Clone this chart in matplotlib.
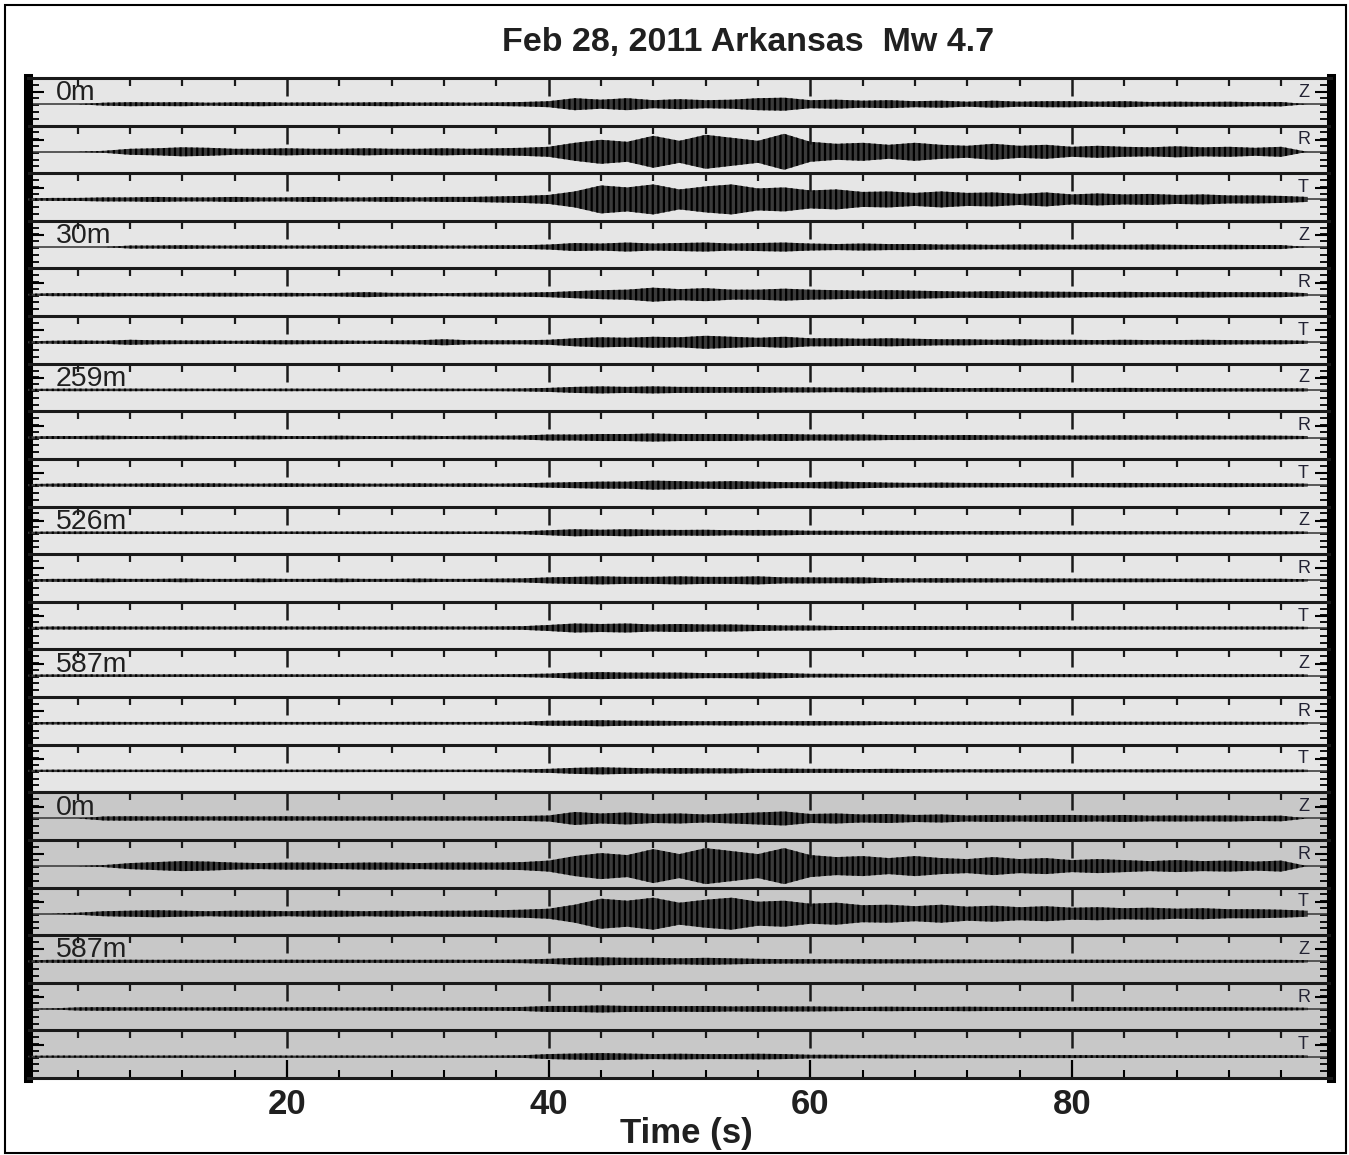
import numpy as np
import matplotlib
matplotlib.use('Agg')
import matplotlib.pyplot as plt
from matplotlib.patches import Rectangle

plt.rcParams['font.family'] = ['Liberation Sans', 'DejaVu Sans']
plt.rcParams['hatch.linewidth'] = 1.6

# sample times (s) of the envelope readings
env_t = list(range(0, 100, 2))

# station labels (one per group of three components) and components
stations = ['0m', '30m', '259m', '526m', '587m', '0m', '587m']
components = ['Z', 'R', 'T']

# envelope half-heights, in pixels (row height ~47.6 px)
amp_0m_Z = [0, 0, 0, 1.5, 2, 1.8, 2, 1.5, 1.8, 2, 1.6, 1.8, 1.5, 1.8, 2, 1.6, 1.8, 1.5, 1.8, 2.2,
            3, 6, 4.5, 6, 4, 5, 4, 4.5, 6, 6.5, 4, 4.5, 3.5, 4, 3, 3.5, 2.5, 3.5, 2.5, 3,
            3, 2.5, 3, 2.2, 2.5, 2.2, 2.5, 2, 2.2, 0]
amp_0m_R = [0, 0, 0, 1, 3, 3.5, 4.5, 4, 3, 3, 3.5, 3, 3, 3.5, 3, 3, 3.5, 3, 3.5, 4,
            5, 9, 12, 10, 16, 11, 17, 14, 11, 18, 10, 8, 9, 7, 9, 7, 6, 8, 6, 7,
            5, 6, 5, 4.5, 5.5, 4.5, 5, 4, 5, 0]
amp_0m_T = [1, 1.5, 1.5, 2, 2, 2.5, 2, 2, 2.5, 2, 2, 2.5, 2, 2, 2.5, 2, 2.5, 2.5, 3, 3.5,
            4.5, 8, 14, 12, 15, 10, 13, 15, 11, 12, 9, 10, 7.5, 8, 6.5, 8, 6.5, 7, 5.5, 7,
            5, 6, 5, 5.5, 4.5, 5, 4, 4, 3.5, 2.5]
amp_30m_Z = [0, 0, 0, 0, 1.5, 1.5, 1.8, 1.5, 1.5, 1.8, 1.5, 1.5, 1.8, 1.5, 1.5, 1.8, 1.5, 1.5, 1.8, 1.8,
             2.5, 4, 3.5, 4.5, 3.5, 4, 4.5, 3.5, 4, 4.5, 3.5, 3, 3.5, 3, 3,
             2.5, 2.5, 2.2, 2.5, 2.5, 2.2, 2.5, 2.2, 2.5, 2.2, 2, 2.2, 2, 2, 0]
amp_30m_R = [0.8, 1.5, 1.5, 1.8, 1.5, 1.8, 1.5, 1.8, 1.8, 1.5, 1.8, 1.5, 1.8, 2.5, 1.8, 1.8, 1.5, 1.8, 2, 2,
             2.5, 3.5, 4.5, 5, 7, 5.5, 6.5, 5, 5, 6, 5, 4.5, 4, 4.5, 4,
             3.5, 3, 3.5, 3, 3, 2.8, 2.5, 2.8, 2.5, 2.5, 2.8, 2.5, 2.5, 2.5, 1.5]
amp_30m_T = [1, 1.5, 1.8, 1.5, 2.5, 2, 1.8, 1.8, 1.5, 1.8, 2, 1.8, 1.8, 1.5, 1.8, 2, 3, 2, 2, 2,
             2.5, 4, 5, 4.5, 5.5, 5, 6.5, 5.5, 4.5, 5.5, 4, 4, 3.5, 4, 3.5,
             3, 3, 2.5, 3, 2.5, 2.5, 2.2, 2.5, 2.2, 2.2, 2.5, 2.2, 2, 2, 1.5]
amp_259m_Z = [1, 1.2, 1.3, 1.2, 1.3, 1.2, 1.3, 1.2, 1.3, 1.2, 1.3, 1.2, 1.3, 1.2, 1.3, 1.2, 1.3, 1.2, 1.3, 1.5,
              2, 3, 3.5, 3, 3.5, 3, 3, 2.8, 3, 2.5, 2.5, 2.2, 2.5, 2.2, 2.2,
              2, 1.8, 2, 1.8, 2, 1.8, 1.8, 2, 1.8, 1.8, 1.8, 1.6, 1.6, 1.6, 1.5]
amp_259m_R = [1, 1.5, 1.5, 1.8, 1.5, 1.5, 1.8, 1.5, 1.5, 1.8, 1.5, 1.5, 1.8, 1.5, 1.5, 1.8, 1.5, 1.8, 1.8, 2,
              3, 3, 3.5, 3.5, 4, 3.5, 3.5, 3.5, 3, 3.5, 3, 3, 3,
              2.5, 2.5, 2.2, 2.5, 2.2, 2, 2.2, 2, 2, 2.2, 2, 2, 2, 1.8, 2, 1.8, 1.5]
amp_259m_T = [1, 1.5, 1.8, 1.5, 1.5, 1.8, 1.5, 1.8, 1.5, 1.5, 1.8, 1.5, 1.8, 1.5, 1.5, 1.8, 1.5, 1.8, 1.5, 1.8,
              2.5, 3, 3.5, 3.5, 4.5, 4, 3.5, 4, 3.5, 3, 3, 3.5, 3, 2.5,
              2.2, 2.5, 2.2, 2.2, 2, 2.2, 2, 2, 2.2, 2, 2, 1.8, 2, 1.8, 1.8, 1.5]
amp_526m_Z = [1, 1.2, 1.3, 1.2, 1.3, 1.2, 1.3, 1.2, 1.2, 1.3, 1.2, 1.3, 1.2, 1.3, 1.2, 1.2, 1.3, 1.2, 1.3, 1.5,
              2.5, 3.5, 3, 3.5, 3, 2.8, 3, 2.5, 2.8, 2.5,
              2, 2, 1.8, 2, 1.8, 1.8, 1.6, 1.8, 1.6, 1.6, 1.6, 1.5, 1.6, 1.5, 1.5, 1.5, 1.5, 1.5, 1.5, 1.2]
amp_526m_R = [1, 1.5, 1.5, 1.8, 1.5, 1.5, 1.8, 1.5, 1.5, 1.8, 1.5, 1.5, 1.8, 1.5, 1.5, 1.8, 1.5, 1.5, 1.8, 2,
              3, 3.5, 4, 3.5, 3.5, 4, 3.5, 3.5, 4, 3, 3, 2.8, 3,
              2.2, 2, 2.2, 2, 2, 1.8, 2, 1.8, 1.8, 1.8, 1.8, 1.6, 1.8, 1.6, 1.6, 1.6, 1.2]
amp_526m_T = [1, 1.5, 1.5, 1.6, 1.5, 1.5, 1.6, 1.5, 1.5, 1.6, 1.5, 1.5, 1.6, 1.5, 1.5, 1.6, 1.5, 1.5, 1.6, 1.8,
              3, 4.5, 4, 4.5, 3.5, 4, 3.5, 3.5, 3, 2.5, 2.5,
              2, 2, 1.8, 2, 1.8, 1.8, 1.8, 1.6, 1.8, 1.6, 1.6, 1.6, 1.5, 1.6, 1.5, 1.5, 1.5, 1.5, 1.2]
amp_587m_Z = [1, 1.2, 1.3, 1.2, 1.3, 1.2, 1.3, 1.2, 1.3, 1.2, 1.3, 1.2, 1.3, 1.2, 1.3, 1.2, 1.3, 1.2, 1.3, 1.5,
              2, 3, 3.5, 3, 3, 3, 2.5, 2.5, 3, 2.5,
              1.8, 1.8, 1.6, 1.8, 1.6, 1.6, 1.6, 1.5, 1.6, 1.5, 1.5, 1.5, 1.5, 1.5, 1.5, 1.4, 1.5, 1.4, 1.4, 1.2]
amp_587m_R = [1, 1.3, 1.3, 1.4, 1.3, 1.3, 1.4, 1.3, 1.3, 1.4, 1.3, 1.3, 1.4, 1.3, 1.3, 1.4, 1.3, 1.3, 1.4, 1.5,
              2.5, 2.5, 3, 2.5, 2.5, 2.2, 2, 2.2, 2, 2, 2.2, 2, 2,
              1.6, 1.6, 1.5, 1.6, 1.5, 1.5, 1.5, 1.5, 1.6, 1.5, 1.5, 1.5, 1.4, 1.5, 1.4, 1.4, 1.2]
amp_587m_T = [1, 1.2, 1.2, 1.3, 1.2, 1.2, 1.3, 1.2, 1.2, 1.3, 1.2, 1.2, 1.3, 1.2, 1.2, 1.3, 1.2, 1.2, 1.3, 1.5,
              2, 3, 3.5, 3, 2.5, 2.8, 2.5, 2.5, 2, 2.2, 2, 2, 1.8, 2, 1.8,
              1.6, 1.5, 1.6, 1.5, 1.5, 1.5, 1.5, 1.4, 1.5, 1.4, 1.4, 1.4, 1.4, 1.4, 1.2]
amp_0m_Z_b = [0, 0, 0, 2, 2.2, 2, 2.2, 2, 2.2, 2, 2.2, 2, 2.2, 2, 2.2, 2, 2.2, 2, 2.2, 2.5,
              3, 6.5, 5, 6, 4.5, 5, 4, 5, 6, 7, 4.5, 5, 4, 4.5, 3.5, 4, 3, 3.5, 3, 3.5,
              3.5, 3, 3.5, 2.8, 3, 2.8, 3, 2.5, 2.8, 0]
amp_0m_R_b = [0, 0, 0, 1, 3, 4, 5, 4.5, 3.5, 3, 3.5, 3.5, 3, 3.5, 3.5, 3, 3.5, 3.5, 3.5, 4,
              5.5, 10, 13, 11, 17, 12, 18, 15, 12, 18, 11, 9, 10, 8, 10, 8, 7, 9, 7, 8,
              6, 7, 6, 5, 6, 5, 5.5, 4.5, 5.5, 0]
amp_0m_T_b = [0, 0, 1, 2.5, 3, 3.5, 3, 2.5, 3, 3, 2.5, 3, 3, 2.5, 3, 2.5, 3, 3, 3.5, 4,
              5, 9, 15, 13, 16, 11, 14, 16, 12, 13, 10, 11, 8.5, 9, 7.5, 9, 7, 8, 6.5, 7.5,
              6, 6.5, 5.5, 6, 5, 5.5, 4.5, 4.5, 4, 3]
amp_587m_Z_b = [1, 1.5, 1.6, 1.5, 1.6, 1.5, 1.6, 1.5, 1.6, 1.5, 1.6, 1.5, 1.6, 1.5, 1.6, 1.5, 1.6, 1.5, 1.6, 1.8,
                2.5, 3.5, 4, 3.5, 3.5, 3, 3.5, 3, 2.5, 2.2, 2.2, 2, 2.2, 2, 2,
                1.8, 1.8, 1.6, 1.8, 1.6, 1.6, 1.6, 1.5, 1.6, 1.5, 1.5, 1.5, 1.5, 1.5, 1.2]
amp_587m_R_b = [0, 0.5, 1.6, 1.8, 1.6, 1.8, 1.6, 1.6, 1.8, 1.6, 1.6, 1.8, 1.6, 1.6, 1.8, 1.6, 1.6, 1.8, 1.8, 2,
                3, 3, 3.5, 3, 3, 2.8, 3, 2.5, 2.8, 2.5, 2.5,
                2.2, 2, 2.2, 2, 2, 2.2, 2, 2, 2, 1.8, 2, 1.8, 1.8, 1.8, 1.8, 1.8, 1.6, 1.6, 1.2]
amp_587m_T_b = [0.8, 1, 1, 1.1, 1, 1, 1.1, 1, 1, 1.1, 1, 1, 1.1, 1, 1, 1.1, 1, 1, 1.1, 1.3,
                2.5, 3, 3.5, 3, 2.5, 2.8, 2.5, 2.5, 2.8, 2.5,
                1.8, 1.8, 1.6, 1.8, 1.6, 1.6, 1.5, 1.6, 1.5, 1.5, 1.5, 1.4, 1.5, 1.4, 1.4, 1.4, 1.4, 1.4, 1.4, 1.2]

traces = [amp_0m_Z, amp_0m_R, amp_0m_T,
          amp_30m_Z, amp_30m_R, amp_30m_T,
          amp_259m_Z, amp_259m_R, amp_259m_T,
          amp_526m_Z, amp_526m_R, amp_526m_T,
          amp_587m_Z, amp_587m_R, amp_587m_T,
          amp_0m_Z_b, amp_0m_R_b, amp_0m_T_b,
          amp_587m_Z_b, amp_587m_R_b, amp_587m_T_b]

W, H = 1349, 1155
row_px = 1000 / 21.0
light = '#e6e6e6'
dark = '#c8c8c8'

fig = plt.figure(figsize=(W / 100, H / 100), dpi=100)
ax = fig.add_axes([28 / W, 77 / H, (1331 - 28) / W, 1000 / H])
ax.set_xlim(0.2, 99.8)
ax.set_ylim(21, 0)
ax.set_facecolor(light)
ax.axhspan(15, 21, color=dark, zorder=0)

minor_t = [t for t in range(4, 100, 4) if t % 20]
for i in range(len(traces)):
    if i > 0:
        ax.axhline(i, color='#1a1a1a', lw=2.2, zorder=4)
    # tick marks hanging from every separator
    ax.vlines(minor_t, i, i + 8 / row_px, color='#1a1a1a', lw=1.6, zorder=4)
    ax.vlines([20, 40, 60, 80], i, i + 18 / row_px, color='#1a1a1a', lw=1.8, zorder=4)
    base = i + 0.55
    ax.axhline(base, color='#404040', lw=1.2, zorder=2)
    a = np.array(traces[i]) / row_px
    ax.fill_between(env_t, base - a, base + a, facecolor='#3a3a3a', edgecolor='black',
                    hatch='|||', linewidth=0, zorder=3)
    ax.text(97.7, i + 0.3, components[i % 3], ha='center', va='center', fontsize=13,
            color='#222233', zorder=5)

for g, name in enumerate(stations):
    ax.text(2.3, 3 * g + 0.32, name, ha='left', va='center', fontsize=20.5, color='#202020', zorder=5)

for side in ['left', 'right']:
    ax.spines[side].set_linewidth(6.5)
    ax.spines[side].set_color('black')
for side in ['top', 'bottom']:
    ax.spines[side].set_linewidth(2.2)
    ax.spines[side].set_color('#1a1a1a')

ax.set_xticks([20, 40, 60, 80])
ax.set_xticklabels(['20', '40', '60', '80'], fontsize=25, fontweight='bold', color='#202020')
ax.set_xticks(minor_t, minor=True)
ax.tick_params(axis='x', which='major', direction='in', length=13, width=1.6, pad=7, top=False)
ax.tick_params(axis='x', which='minor', direction='in', length=6, width=1.5, top=False)

ax.set_yticks(np.arange(0.3, 21, 1))
ax.set_yticks(np.arange(0, 21, 1 / 7.0), minor=True)
ax.set_yticklabels([])
ax.tick_params(axis='y', which='major', direction='in', length=11.5, width=1.5, left=True, right=True)
ax.tick_params(axis='y', which='minor', direction='in', length=8, width=1.3, left=True, right=True)

fig.text(748 / W, 1 - 42 / H, 'Feb 28, 2011 Arkansas  Mw 4.7', ha='center', va='center',
         fontsize=24.5, fontweight='bold', color='#202020')
fig.text(686 / W, 1 - 1133 / H, 'Time (s)', ha='center', va='center',
         fontsize=25, fontweight='bold', color='#202020')

fig.patches.append(Rectangle((5 / W, 2 / H), (1346 - 5) / W, (1150 - 2) / H, transform=fig.transFigure,
                             fill=False, edgecolor='black', lw=1.5))

fig.savefig('out.png', dpi=100)
